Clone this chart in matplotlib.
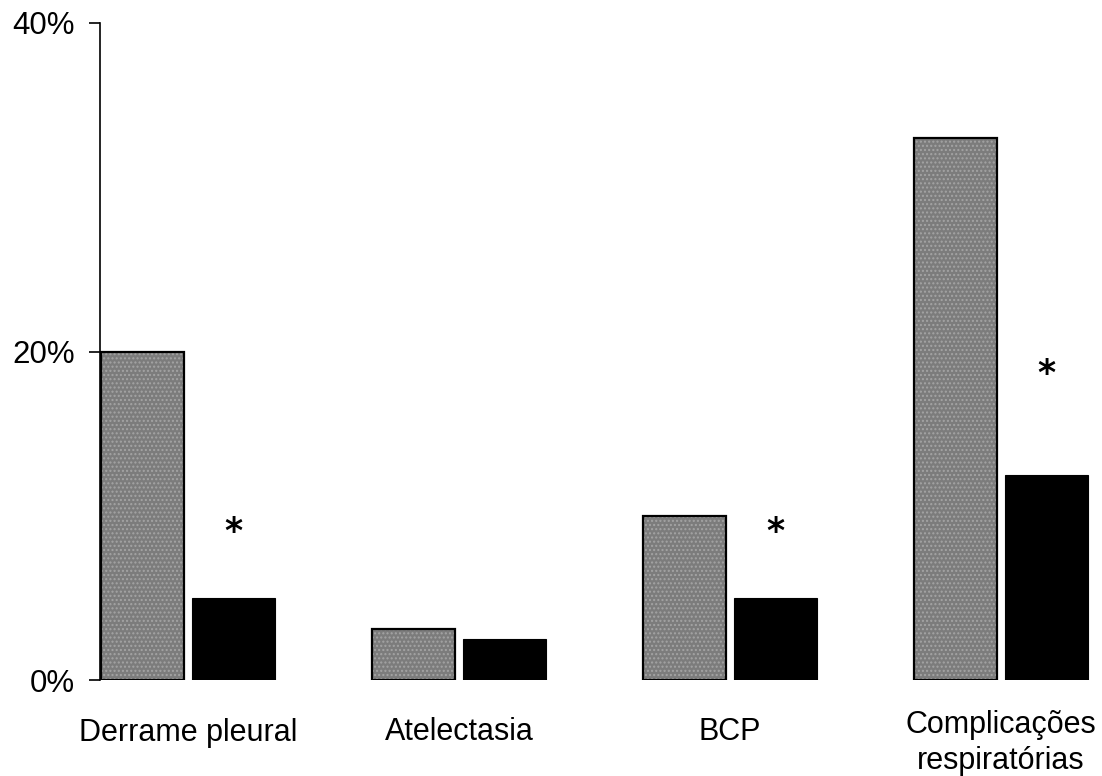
import matplotlib
matplotlib.use("Agg")
import matplotlib.pyplot as plt
import matplotlib.transforms as mtransforms
import numpy as np

categories = ["Derrame pleural", "Atelectasia", "BCP", "Complicações\nrespiratórias"]
grupo_a = [20.0, 3.1, 10.0, 33.0]
grupo_b = [5.0, 2.5, 5.0, 12.5]
asterisk_y = [9.0, None, 9.0, 18.6]
yticks = [0, 20, 40]
yticklabels = ["0%", "20%", "40%"]

plt.rcParams['font.family'] = ['Liberation Sans', 'DejaVu Sans']
plt.rcParams['hatch.linewidth'] = 1.0

fig = plt.figure(figsize=(11.02, 7.76), dpi=100)
ax = fig.add_axes([100/1102, 1-680/776, 1-100/1102, (680-23)/776])

x = np.arange(len(categories))
w = 0.306
off = 0.167
# textured grey fill
ax.bar(x - off, grupo_a, width=w, color='#7c7c7c', edgecolor='#a4a4a4', linewidth=0,
       hatch='....', zorder=2)
# black outline
ax.bar(x - off, grupo_a, width=w, fill=False, edgecolor='black', linewidth=1.6, zorder=3)
ax.bar(x + off, grupo_b, width=w, color='black', edgecolor='black', linewidth=0.8, zorder=2)

for xi, ya in zip(x, asterisk_y):
    if ya is not None:
        ax.text(xi + off, ya, '*', ha='center', va='center', fontsize=25,
                family='DejaVu Sans', fontweight='bold')

ax.set_xlim(-0.325, 3.373)
ax.set_ylim(0, 40)
ax.set_yticks(yticks)
ax.set_yticklabels(yticklabels, fontsize=22.5)
ax.set_xticks(x)
ax.set_xticklabels(categories, fontsize=22, linespacing=1.25)
ax.tick_params(axis='x', length=0, pad=27)
ax.tick_params(axis='y', length=8, width=1.2, direction='out', pad=10)
for s in ['top', 'right', 'bottom']:
    ax.spines[s].set_visible(False)
ax.spines['left'].set_linewidth(1.2)

lab = ax.get_xticklabels()[3]
lab.set_transform(lab.get_transform() + mtransforms.ScaledTranslation(0, 7/100, fig.dpi_scale_trans))

fig.savefig('out.png', dpi=100)
